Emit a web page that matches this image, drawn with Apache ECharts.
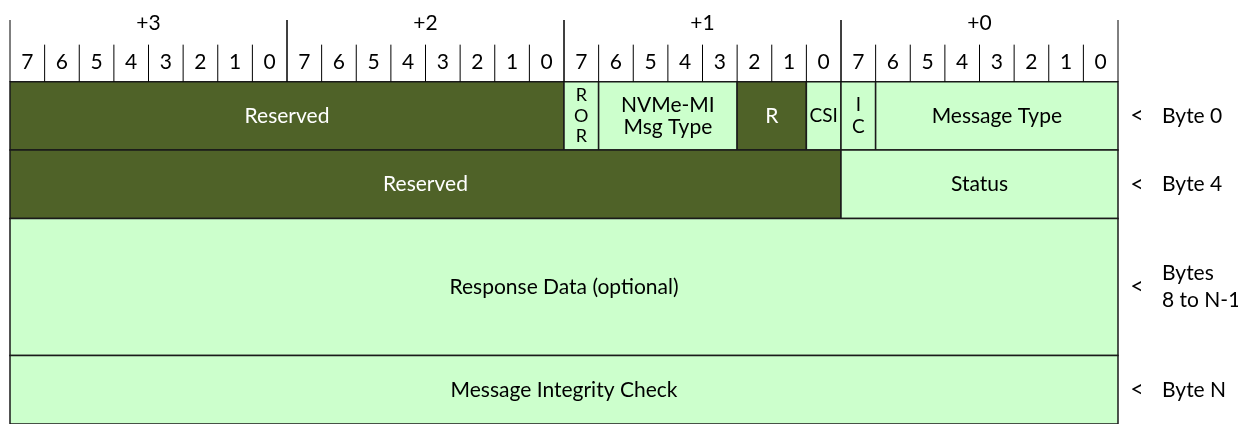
<!DOCTYPE html>
<html><head><meta charset="utf-8">
<script src="https://cdn.jsdelivr.net/npm/echarts@6/dist/echarts.min.js"></script>
<style>html,body{margin:0;padding:0;background:#fff}#c{width:1238px;height:424px}</style>
</head><body><div id="c"></div>
<script>
const byteLabels = ['+3','+2','+1','+0'];
const bitLabels = ['7','6','5','4','3','2','1','0'];
const fieldNames = ['Reserved','R\nO\nR','NVMe-MI\nMsg Type','R','CSI','I\nC','Message Type','Reserved','Status','Response Data (optional)','Message Integrity Check'];
const fieldHiBit = [31,15,14,10,8,7,6,31,7,31,31];
const fieldLoBit = [16,15,11,9,8,7,0,8,0,0,0];
const fieldRow = [0,0,0,0,0,0,0,1,1,2,3];
const fieldReserved = [1,0,0,1,0,0,0,1,0,0,0];
const rowTop = [0,1,2,4];
const rowBottom = [1,2,4,5];
const rowLabels = ['Byte 0','Byte 4','Bytes\n8 to N-1','Byte N'];

const FONT = 'Lato, "Noto Sans", sans-serif';
const DARK = '#4F6228', LIGHT = '#CCFFCC', LINE = '#1a1a1a';
const FS = 21;

const chart = echarts.init(document.getElementById('c'), null, {renderer:'canvas'});

const cellData = fieldNames.map((n,i)=>[fieldHiBit[i]+1, fieldLoBit[i], rowTop[fieldRow[i]], rowBottom[fieldRow[i]], i]);
const bitData = [];
for (let b=0;b<32;b++) bitData.push([b+0.5, b]);
const byteData = byteLabels.map((l,k)=>[ (3-k)*8+4, 3-k, k ]);
const rowData = rowLabels.map((l,i)=>[0, (rowTop[i]+rowBottom[i])/2, i]);

function cellFont(name){
  if (name==='R\nO\nR') return {fontSize:18, lineHeight:20.5};
  if (name==='I\nC') return {fontSize:19, lineHeight:22};
  if (name==='CSI') return {fontSize:19, lineHeight:22};
  return {fontSize:FS, lineHeight:22};
}

chart.setOption({
  animation:false,
  grid:{left:10, top:20, width:1108, height:406},
  xAxis:{type:'value', min:0, max:32, inverse:true, show:false},
  yAxis:{type:'value', min:-0.9, max:5, inverse:true, show:false},
  series:[
    {
      type:'custom', clip:false, data:cellData,
      encode:{x:[0,1], y:[2,3]},
      renderItem:function(params, api){
        const i = api.value(4);
        const p1 = api.coord([api.value(0), api.value(2)]);
        const p2 = api.coord([api.value(1), api.value(3)]);
        const x = Math.min(p1[0],p2[0]), y = Math.min(p1[1],p2[1]);
        const w = Math.abs(p2[0]-p1[0]), h = Math.abs(p2[1]-p1[1]);
        const dark = fieldReserved[i]===1;
        const name = fieldNames[i];
        const f = cellFont(name);
        return {type:'group', children:[
          {type:'rect', shape:{x:x,y:y,width:w,height:h}, style:{fill: dark?DARK:LIGHT, stroke:LINE, lineWidth:1.5}},
          {type:'text', style:{text:name, x:x+w/2, y:y+h/2, align:'center', verticalAlign:'middle',
            fill: dark?'#ffffff':'#000000', fontFamily:FONT, fontSize:f.fontSize, lineHeight:f.lineHeight}}
        ]};
      }
    },
    {
      type:'custom', clip:false, data:bitData,
      encode:{x:0},
      renderItem:function(params, api){
        const b = api.value(1);
        const c = api.coord([api.value(0), -0.29]);
        const l0 = api.coord([b+1, -0.54]);
        const l1 = api.coord([b+1, 0]);
        const ch = [{type:'text', style:{text:bitLabels[7-(b%8)], x:c[0], y:c[1], align:'center', verticalAlign:'middle', fill:'#000', fontFamily:FONT, fontSize:FS}}];
        if ((b+1)%8!==0) ch.push({type:'line', shape:{x1:l0[0],y1:l0[1],x2:l1[0],y2:l1[1]}, style:{stroke:'#000', lineWidth:1}});
        return {type:'group', children:ch};
      }
    },
    {
      type:'custom', clip:false, data:byteData,
      encode:{x:0},
      renderItem:function(params, api){
        const k = api.value(2);
        const byte = api.value(1);
        const c = api.coord([api.value(0), -0.86]);
        const a0 = api.coord([byte*8, -0.9]), a1 = api.coord([byte*8, 0]);
        const b0 = api.coord([byte*8+8, -0.9]), b1 = api.coord([byte*8+8, 0]);
        return {type:'group', children:[
          {type:'text', style:{text:byteLabels[k], x:c[0], y:c[1], align:'center', verticalAlign:'middle', fill:'#000', fontFamily:FONT, fontSize:FS}},
          {type:'line', shape:{x1:a0[0],y1:a0[1],x2:a1[0],y2:a1[1]}, style:{stroke:'#000', lineWidth:1}},
          {type:'line', shape:{x1:b0[0],y1:b0[1],x2:b1[0],y2:b1[1]}, style:{stroke:'#000', lineWidth:1}}
        ]};
      }
    },
    {
      type:'custom', clip:false, data:rowData,
      encode:{y:1},
      renderItem:function(params, api){
        const i = api.value(2);
        const p = api.coord([api.value(0), api.value(1)]);
        return {type:'group', children:[
          {type:'text', style:{text:'<', x:p[0]+19, y:p[1], align:'center', verticalAlign:'middle', fill:'#000', fontFamily:FONT, fontSize:23}},
          {type:'text', style:{text:rowLabels[i], x:p[0]+44, y:p[1], align:'left', verticalAlign:'middle', fill:'#000', fontFamily:FONT, fontSize:FS, lineHeight:27}}
        ]};
      }
    }
  ]
});
</script>
</body></html>
